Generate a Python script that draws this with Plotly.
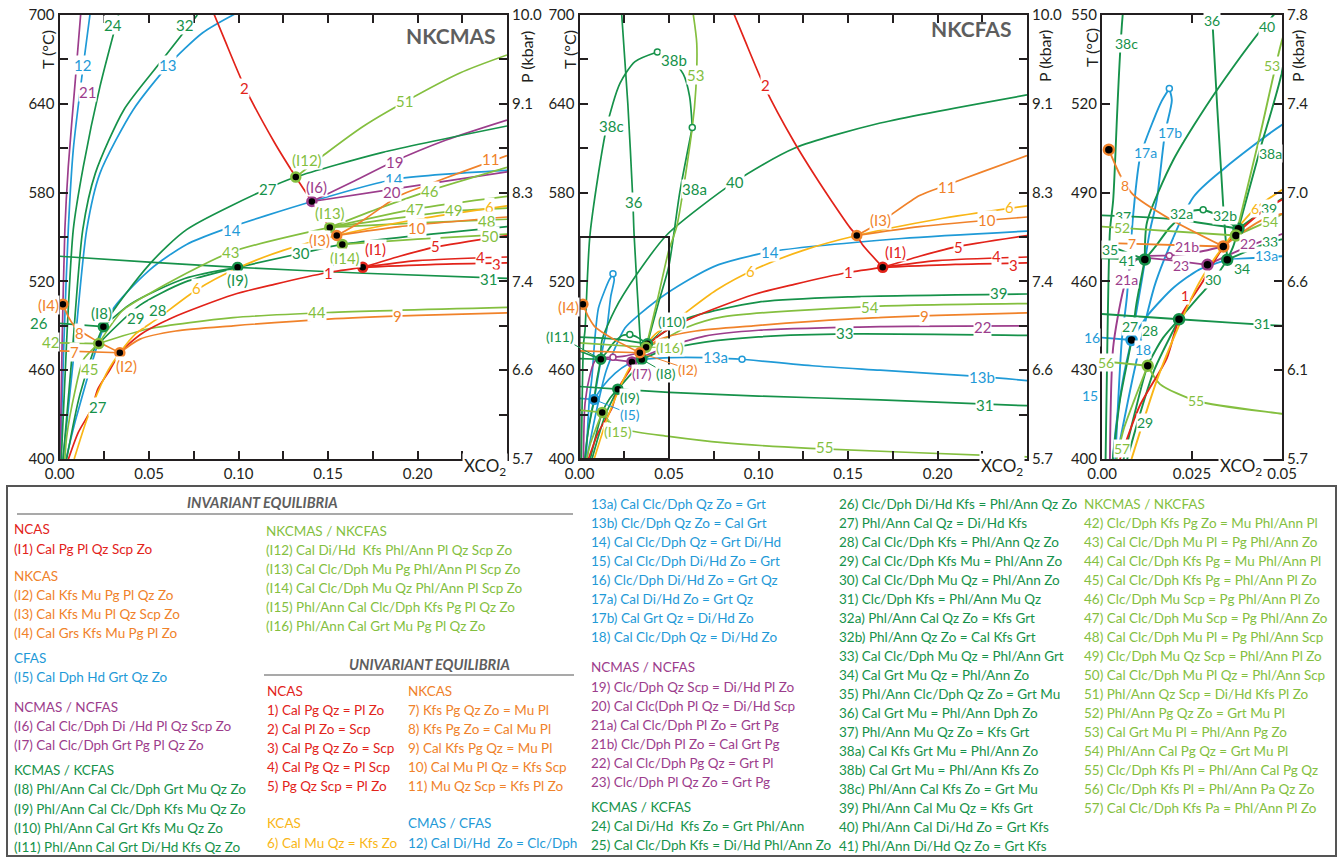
import plotly.graph_objects as go

# ---------------- colours ----------------
RED = "#e2231a"; ORG = "#f0822a"; YEL = "#f9b616"; BLU = "#1f9ad7"
PUR = "#9c3d8c"; DG = "#16924a"; LG = "#84bf3f"; GRY = "#5e5e5e"; INK = "#231f20"
FONT = "Lato, 'Open Sans', sans-serif"

# ---------------- data: (XCO2, T degC) ----------------
# NCAS / NKCAS / KCAS reactions (same in both systems)
NCAS_1 = [(0.1694, 529.5), (0.15, 526), (0.12, 518), (0.097, 511), (0.063, 495.5), (0.045, 484), (0.0337, 471.5), (0.028, 460), (0.0214, 447.2), (0.018, 434), (0.0105, 418), (0.005, 400)]
NCAS_2 = [(0.1694, 529.5), (0.158, 545), (0.1549, 551), (0.151, 556.5), (0.141, 574), (0.132, 590.5), (0.12, 614), (0.1036, 651), (0.092, 684), (0.0855, 703)]
NCAS_3 = [(0.1694, 529.5), (0.21, 531.5), (0.25, 532.5)]
NCAS_4 = [(0.1694, 529.5), (0.2, 534), (0.25, 536.5)]
NCAS_5 = [(0.1694, 529.5), (0.19, 537), (0.209, 543), (0.25, 551)]
KCAS_6 = [(0.0082, 400), (0.0152, 426.5), (0.021, 444), (0.0272, 460), (0.0337, 471.8), (0.0425, 484.5), (0.055, 495), (0.0763, 514), (0.0995, 529), (0.125, 541), (0.1549, 551), (0.2, 562), (0.25, 571)]
NKCAS_7 = [(0.0, 473), (0.0337, 471.8)]
NKCAS_8 = [(0.0019, 504.5), (0.005, 496), (0.0085, 489.5), (0.019, 481), (0.0337, 471.8)]
NKCAS_9 = [(0.0337, 471.8), (0.045, 481), (0.065, 486.5), (0.097, 490), (0.15, 494.5), (0.2, 497), (0.25, 498.8)]
NKCAS_10 = [(0.1549, 551), (0.19, 557), (0.25, 563.5)]
NKCAS_11 = [(0.1549, 551), (0.168, 560), (0.19, 578), (0.205, 585), (0.225, 594), (0.25, 605)]

# NKCMAS (left panel)
M_12 = [(0.0005, 400), (0.0025, 480), (0.0049, 555), (0.0077, 609), (0.0133, 666), (0.017, 700)]
M_13 = [(0.002, 400), (0.008, 470), (0.0152, 555), (0.0226, 593), (0.0412, 636), (0.0608, 666), (0.08, 688), (0.1, 702)]
M_14 = [(0.0037, 400), (0.0096, 429), (0.028, 498), (0.0506, 528), (0.071, 545), (0.0915, 555), (0.141, 574), (0.1874, 589), (0.25, 595)]
M_19 = [(0.141, 574), (0.165, 588), (0.185, 600), (0.216, 615.5), (0.25, 629)]
M_20 = [(0.141, 574), (0.19, 583), (0.25, 594)]
M_21 = [(0.0003, 400), (0.0015, 480), (0.003, 555), (0.0049, 597.5), (0.0087, 654), (0.0118, 700)]
M_24 = [(0.001, 400), (0.004, 480), (0.0077, 555), (0.0133, 597.5), (0.0226, 651.6), (0.033, 700)]
M_26 = [(0.0, 491.7), (0.0245, 489.4)]
M_27 = [(0.004, 400), (0.0115, 444), (0.0245, 489.4), (0.0506, 532), (0.071, 555), (0.1167, 583), (0.132, 590.5), (0.18, 607), (0.25, 625)]
M_28 = [(0.0219, 478), (0.045, 504), (0.07, 519.5), (0.0995, 529.5)]
M_29 = [(0.0245, 489.4), (0.04, 505), (0.07, 522), (0.0995, 529.5)]
M_30 = [(0.0995, 529.5), (0.135, 539), (0.158, 545), (0.25, 557)]
M_31 = [(0.0, 537), (0.05, 533), (0.0995, 529.5), (0.17, 525.5), (0.25, 522)]
M_32 = [(0.002, 400), (0.007, 470), (0.013, 555), (0.02, 593), (0.036, 636), (0.055, 666), (0.077, 700)]
M_42 = [(0.0, 478.5), (0.0219, 478)]
M_43 = [(0.0219, 478), (0.035, 500), (0.0506, 512), (0.095, 539.4), (0.151, 556.5)]
M_44 = [(0.0219, 478), (0.05, 488), (0.097, 495.5), (0.15, 499), (0.25, 502.5)]
M_45 = [(0.0219, 478), (0.0133, 467), (0.0085, 445), (0.004, 415), (0.003, 400)]
M_46 = [(0.151, 556.5), (0.18, 570), (0.206, 581), (0.25, 597)]
M_47 = [(0.151, 556.5), (0.199, 569), (0.25, 577.5)]
M_48 = [(0.151, 556.5), (0.2, 559.5), (0.25, 562)]
M_49 = [(0.151, 556.5), (0.22, 567.5), (0.25, 569.5)]
M_50 = [(0.158, 545), (0.2, 548.5), (0.25, 552)]
M_51 = [(0.132, 590.5), (0.149, 606.6), (0.17, 625), (0.193, 641.4), (0.224, 661), (0.25, 673)]

# NKCFAS (middle panel and inset)
F_13a = [(0.0348, 467.3), (0.05, 468.5), (0.07, 468.5), (0.0908, 467.4)]
F_13b = [(0.0908, 467.4), (0.13, 463), (0.168, 460), (0.2247, 455.6), (0.25, 453)]
F_14 = [(0.004, 400), (0.009, 430), (0.015, 460), (0.0254, 488.5), (0.0338, 498), (0.0499, 512.8), (0.075, 530), (0.1064, 540), (0.18, 549), (0.25, 554)]
F_15 = [(0.0082, 440.2), (0.006, 428), (0.004, 412), (0.003, 400)]
F_16 = [(0.0, 441), (0.0082, 440.2)]
F_17a = [(0.0037, 400), (0.0055, 440), (0.0069, 454.6), (0.0087, 483), (0.0106, 502), (0.0143, 514.5), (0.0166, 521), (0.0187, 525.2)]
F_17b = [(0.0187, 525.2), (0.0194, 521.2), (0.0175, 510), (0.0152, 487.4), (0.0133, 477), (0.011, 460), (0.0082, 440.2)]
F_18 = [(0.0082, 440.2), (0.013, 449), (0.02, 458), (0.027, 464), (0.0348, 467.3)]
F_21a = [(0.0022, 400), (0.0031, 437.7), (0.0059, 457), (0.0085, 466), (0.0106, 468.2), (0.0187, 468.7)]
F_21b = [(0.0187, 468.7), (0.025, 469.5), (0.0337, 471.8)]
F_22 = [(0.0293, 465.6), (0.04, 471.5), (0.05, 476), (0.07, 483), (0.1, 487), (0.168, 489.5), (0.25, 490)]
F_23 = [(0.0106, 468.2), (0.02, 467), (0.0293, 465.6)]
F_27 = [(0.003, 400), (0.005, 420), (0.0082, 440.2), (0.0095, 452), (0.0119, 467.4)]
F_28 = [(0.006, 400), (0.009, 415), (0.0127, 431.5), (0.017, 441), (0.0214, 447.2)]
F_29 = [(0.007, 400), (0.0105, 415), (0.0145, 430), (0.0214, 447.2)]
F_30 = [(0.0214, 447.2), (0.027, 455), (0.031, 460.5), (0.0348, 467.3)]
F_31 = [(0.0, 449), (0.0214, 447.2), (0.05, 445), (0.1, 442.5), (0.168, 440), (0.25, 436)]
F_32a = [(0.0119, 467.4), (0.015, 472), (0.0189, 478.3), (0.024, 483.5), (0.0281, 484.2)]
F_32b = [(0.0281, 484.2), (0.032, 482.5), (0.0379, 477.8)]
F_33 = [(0.0348, 467.3), (0.0467, 473.2), (0.07, 479), (0.1, 482.5), (0.15, 484.5), (0.25, 483.5)]
F_34 = [(0.0348, 467.3), (0.0365, 472), (0.0379, 477.8)]
F_35 = [(0.0, 473), (0.0119, 467.4)]
F_36 = [(0.0236, 700), (0.027, 640), (0.0298, 575), (0.0305, 551.7), (0.0337, 485), (0.0348, 467.3)]
F_37 = [(0.0, 482.3), (0.02, 481), (0.0379, 477.8)]
F_38a = [(0.0379, 477.8), (0.044, 505), (0.0499, 530.3), (0.056, 580), (0.063, 624)]
F_38b = [(0.063, 624), (0.0615, 645), (0.058, 660), (0.0485, 674), (0.0435, 675)]
F_38c = [(0.0435, 675), (0.031, 668.5), (0.0226, 653.8), (0.0152, 624.5), (0.0059, 552), (0.0031, 487.4), (0.0022, 477), (0.0015, 440), (0.001, 400)]
F_39 = [(0.0379, 477.8), (0.0457, 484.5), (0.06, 495), (0.1, 506), (0.15, 509.5), (0.25, 511.5)]
F_40 = [(0.0119, 467.4), (0.0125, 480), (0.0198, 501), (0.0319, 524.6), (0.049, 551.7), (0.0869, 587.4), (0.12, 610), (0.168, 627), (0.25, 646)]
F_41 = [(0.0, 467.8), (0.0119, 467.4)]
F_52 = [(0.0, 478.5), (0.0372, 475.5)]
F_53 = [(0.0372, 475.5), (0.044, 510), (0.0499, 541), (0.0543, 557), (0.063, 624), (0.065, 650), (0.0655, 681), (0.0636, 700)]
F_54 = [(0.0372, 475.5), (0.0467, 480.6), (0.06, 489), (0.08, 496), (0.162, 503), (0.25, 505)]
F_55 = [(0.0127, 431.5), (0.0161, 425.3), (0.0263, 419.6), (0.0499, 415.3), (0.08, 411), (0.1288, 407.2), (0.2387, 402), (0.25, 401.5)]
F_56 = [(0.0, 433), (0.0127, 431.5)]
F_57 = [(0.0127, 431.5), (0.009, 420), (0.006, 410), (0.004, 400)]

# invariant points (x, T)
INV_SHARED = {"I1": (0.1694, 529.5), "I2": (0.0337, 471.8), "I3": (0.1549, 551), "I4": (0.0019, 504.5)}
INV_M = {"I6": (0.141, 574), "I8": (0.0245, 489.4), "I9": (0.0995, 529.5), "I12": (0.132, 590.5),
         "I13": (0.151, 556.5), "I14": (0.158, 545), "P42": (0.0219, 478)}
INV_F = {"I5": (0.0082, 440.2), "I7": (0.0293, 465.6), "I8": (0.0348, 467.3), "I9": (0.0214, 447.2),
         "I10": (0.0379, 477.8), "I11": (0.0119, 467.4), "I15": (0.0127, 431.5), "I16": (0.0372, 475.5)}
OPEN_F = [((0.0435, 675), DG), ((0.063, 624), DG), ((0.0187, 525.2), BLU), ((0.0281, 484.2), DG),
          ((0.0187, 468.7), PUR), ((0.0908, 467.4), BLU)]

# axis ticks
T_MAIN = [400, 460, 520, 580, 640, 700]
T_MAIN_MINOR = [430, 490, 550, 610, 670]
P_MAIN_TXT = ["5.7", "6.6", "7.4", "8.3", "9.1", "10.0"]
X_MAIN = [0, 0.05, 0.10, 0.15, 0.20]
X_MAIN_TXT = ["0.00", "0.05", "0.10", "0.15", "0.20"]
X_MAIN_MINOR = [0.025, 0.075, 0.125, 0.175, 0.225, 0.25]
T_INS = [400, 430, 460, 490, 520, 550]
T_INS_MINOR = [445]
P_INS_TXT = ["5.7", "6.1", "6.6", "7.0", "7.4", "7.8"]
X_INS = [0, 0.025, 0.05]
X_INS_TXT = ["0.00", "0.025", "0.05"]

# curve labels: (text, x, T, colour)
P1_LABELS = [("24", 0.030, 693, DG), ("32", 0.070, 693, DG), ("12", 0.0131, 666, BLU), ("13", 0.0606, 666, BLU),
             ("21", 0.0154, 648, PUR), ("2", 0.1036, 651, RED), ("51", 0.193, 641.9, LG), ("(I12)", 0.138, 602, LG),
             ("19", 0.1874, 600.7, PUR), ("27", 0.1165, 582.4, DG), ("(I6)", 0.1438, 584, PUR), ("14", 0.187, 589.5, BLU),
             ("14", 0.0964, 554.7, BLU), ("20", 0.186, 580.5, PUR), ("46", 0.207, 581, LG), ("11", 0.241, 602.7, ORG),
             ("47", 0.1986, 569, LG), ("49", 0.22, 568, LG), ("6", 0.2405, 570.3, YEL), ("6", 0.0763, 515.5, YEL),
             ("48", 0.2388, 560.8, LG), ("10", 0.1997, 556, ORG), ("(I13)", 0.151, 566, LG), ("(I3)", 0.1455, 548, ORG),
             ("50", 0.2405, 550.7, LG), ("(I14)", 0.1595, 535.8, LG), ("(I1)", 0.1763, 542, RED), ("5", 0.2103, 544, RED),
             ("4", 0.235, 536.5, RED), ("3", 0.2444, 531.7, RED), ("43", 0.0954, 539.9, LG), ("30", 0.135, 539.2, DG),
             ("1", 0.15, 525.7, RED), ("31", 0.2394, 521.6, DG), ("(I9)", 0.0997, 521, DG), ("(I4)", -0.0064, 504, ORG),
             ("26", -0.0114, 492, DG), ("(I8)", 0.0237, 498.6, DG), ("29", 0.0422, 495.3, DG), ("28", 0.055, 500.7, DG),
             ("8", 0.011, 485, ORG), ("44", 0.1439, 499.3, LG), ("9", 0.1886, 496.6, ORG), ("42", -0.0053, 479, LG),
             ("7", 0.0081, 472.3, ORG), ("(I2)", 0.0372, 462.8, ORG), ("45", 0.017, 460.8, LG), ("27", 0.0215, 435.1, DG)]
P2_LABELS = [("38b", 0.0528, 669.6, DG), ("53", 0.065, 659.5, LG), ("2", 0.104, 652.7, RED), ("38c", 0.018, 625, DG),
             ("38a", 0.0645, 582.4, DG), ("40", 0.0869, 587, DG), ("36", 0.0304, 573.6, DG), ("11", 0.2053, 583.8, ORG),
             ("6", 0.2405, 570.3, YEL), ("6", 0.0958, 527, YEL), ("10", 0.2277, 561.5, ORG), ("(I3)", 0.1679, 561.5, ORG),
             ("14", 0.1064, 540, BLU), ("5", 0.2115, 543.2, RED), ("(I1)", 0.1763, 540, RED), ("4", 0.2332, 537.2, RED),
             ("3", 0.2427, 531, RED), ("1", 0.15, 526.3, RED), ("(I4)", -0.0064, 502.7, ORG), ("39", 0.2338, 512.2, DG),
             ("54", 0.1623, 502.7, LG), ("9", 0.193, 496.6, ORG), ("22", 0.2254, 489.2, PUR), ("33", 0.1478, 485, DG),
             ("13a", 0.0757, 469, BLU), ("13b", 0.2249, 455.4, BLU), ("31", 0.2265, 436.5, DG), ("55", 0.137, 408.1, LG)]
# labels with leader lines: (text, label x, label T, point key, colour)
P2_LEADERS = [("(I10)", 0.0515, 492.8, "I10", DG), ("(I11)", -0.0109, 482.6, "I11", DG), ("(I16)", 0.0506, 475.5, "I16", LG),
              ("(I7)", 0.035, 458.1, "I7", PUR), ("(I8)", 0.0483, 458, "I8", DG), ("(I2)", 0.0606, 460.8, "I2", ORG),
              ("(I9)", 0.0282, 441.7, "I9", DG), ("(I5)", 0.0282, 430.4, "I5", BLU), ("(I15)", 0.0217, 418.4, "I15", LG)]
P3_LABELS = [("36", 0.0306, 548.3, DG), ("40", 0.0458, 546, DG), ("38c", 0.0069, 540.5, DG), ("53", 0.0472, 533.1, LG),
             ("17b", 0.0189, 510.4, BLU), ("17a", 0.0122, 503.6, BLU), ("38a", 0.0467, 503.3, DG), ("8", 0.0064, 492.4, ORG),
             ("32a", 0.0222, 483, DG), ("32b", 0.0342, 482.3, DG), ("6", 0.0425, 484.6, YEL), ("39", 0.0465, 484.6, DG),
             ("37", 0.0058, 482, DG), ("54", 0.0467, 480.4, LG), ("52", 0.0056, 478.2, LG), ("7", 0.0083, 472.8, ORG),
             ("21b", 0.0236, 471.8, PUR), ("22", 0.0406, 472.8, PUR), ("33", 0.0467, 473.6, DG), ("35", 0.0022, 470.8, DG),
             ("41", 0.0069, 467, DG), ("13a", 0.0458, 468.7, BLU), ("23", 0.0219, 465.4, PUR), ("34", 0.0389, 464.3, DG),
             ("21a", 0.0067, 460.6, PUR), ("30", 0.0308, 460.6, DG), ("1", 0.023, 455.2, RED), ("31", 0.0444, 445.7, DG),
             ("27", 0.0078, 444.7, DG), ("28", 0.0133, 443.3, DG), ("16", -0.0028, 441, BLU), ("18", 0.0114, 436.9, BLU),
             ("56", 0.0011, 432.5, LG), ("15", -0.0033, 421.3, BLU), ("55", 0.0261, 419.6, LG), ("29", 0.0119, 412.5, DG),
             ("57", 0.0056, 403.4, LG)]

# legend text
LEG_INV_1 = [("NCAS", RED), ("(I1) Cal Pg Pl Qz Scp Zo", RED), ("NKCAS", ORG), ("(I2) Cal Kfs Mu Pg Pl Qz Zo", ORG),
             ("(I3) Cal Kfs Mu Pl Qz Scp Zo", ORG), ("(I4) Cal Grs Kfs Mu Pg Pl Zo", ORG), ("CFAS", BLU),
             ("(I5) Cal Dph Hd Grt Qz Zo", BLU), ("NCMAS / NCFAS", PUR), ("(I6) Cal Clc/Dph Di /Hd Pl Qz Scp Zo", PUR),
             ("(I7) Cal Clc/Dph Grt Pg Pl Qz Zo", PUR), ("KCMAS / KCFAS", DG), ("(I8) Phl/Ann Cal Clc/Dph Grt Mu Qz Zo", DG),
             ("(I9) Phl/Ann Cal Clc/Dph Kfs Mu Qz Zo", DG), ("(I10) Phl/Ann Cal Grt Kfs Mu Qz Zo", DG),
             ("(I11) Phl/Ann Cal Grt Di/Hd Kfs Qz Zo", DG)]
LEG_INV_1_Y = [529, 549, 576, 595, 614, 633, 658, 677, 707, 726, 745, 770, 789, 809, 828, 847]
LEG_INV_2 = ["NKCMAS / NKCFAS", "(I12) Cal Di/Hd  Kfs Phl/Ann Pl Qz Scp Zo", "(I13) Cal Clc/Dph Mu Pg Phl/Ann Pl Scp Zo",
             "(I14) Cal Clc/Dph Mu Qz Phl/Ann Pl Scp Zo", "(I15) Phl/Ann Cal Clc/Dph Kfs Pg Pl Qz Zo",
             "(I16) Phl/Ann Cal Grt Mu Pg Pl Qz Zo"]
LEG_UNI_A = [("NCAS", RED), ("1) Cal Pg Qz = Pl Zo", RED), ("2) Cal Pl Zo = Scp", RED), ("3) Cal Pg Qz Zo = Scp", RED),
             ("4) Cal Pg Qz = Pl Scp", RED), ("5) Pg Qz Scp = Pl Zo", RED), ("KCAS", YEL), ("6) Cal Mu Qz = Kfs Zo", YEL)]
LEG_UNI_B = [("NKCAS", ORG), ("7) Kfs Pg Qz Zo = Mu Pl", ORG), ("8) Kfs Pg Zo = Cal Mu Pl", ORG),
             ("9) Cal Kfs Pg Qz = Mu Pl", ORG), ("10) Cal Mu Pl Qz = Kfs Scp", ORG), ("11) Mu Qz Scp = Kfs Pl Zo", ORG),
             ("CMAS / CFAS", BLU), ("12) Cal Di/Hd  Zo = Clc/Dph", BLU)]
LEG_UNI_Y = [691, 710, 729, 748, 767, 786, 823, 843]
LEG_COL4 = [("13a) Cal Clc/Dph Qz Zo = Grt", BLU), ("13b) Clc/Dph Qz Zo = Cal Grt", BLU), ("14) Cal Clc/Dph Qz = Grt Di/Hd", BLU),
            ("15) Cal Clc/Dph Di/Hd Zo = Grt", BLU), ("16) Clc/Dph Di/Hd Zo = Grt Qz", BLU), ("17a) Cal Di/Hd Zo = Grt Qz", BLU),
            ("17b) Cal Grt Qz = Di/Hd Zo", BLU), ("18) Cal Clc/Dph Qz = Di/Hd Zo", BLU), ("NCMAS / NCFAS", PUR),
            ("19) Clc/Dph Qz Scp = Di/Hd Pl Zo", PUR), ("20) Cal Clc(Dph Pl Qz = Di/Hd Scp", PUR),
            ("21a) Cal Clc/Dph Pl Zo = Grt Pg", PUR), ("21b) Clc/Dph Pl Zo = Cal Grt Pg", PUR),
            ("22) Cal Clc/Dph Pg Qz = Grt Pl", PUR), ("23) Clc/Dph Pl Qz Zo = Grt Pg", PUR), ("KCMAS / KCFAS", DG),
            ("24) Cal Di/Hd  Kfs Zo = Grt Phl/Ann", DG), ("25) Cal Clc/Dph Kfs = Di/Hd Phl/Ann Zo", DG)]
LEG_COL4_Y = [504, 523, 542, 561, 580, 599, 618, 637, 667, 687, 706, 725, 744, 763, 782, 807, 826, 845]
LEG_COL5 = ["26) Clc/Dph Di/Hd Kfs = Phl/Ann Qz Zo", "27) Phl/Ann Cal Qz = Di/Hd Kfs", "28) Cal Clc/Dph Kfs = Phl/Ann Qz Zo",
            "29) Cal Clc/Dph Kfs Mu = Phl/Ann Zo", "30) Cal Clc/Dph Mu Qz = Phl/Ann Zo", "31) Clc/Dph Kfs = Phl/Ann Mu Qz",
            "32a) Phl/Ann Cal Qz Zo = Kfs Grt", "32b) Phl/Ann Qz Zo = Cal Kfs Grt", "33) Cal Clc/Dph Mu Qz = Phl/Ann Grt",
            "34) Cal Grt Mu Qz = Phl/Ann Zo", "35) Phl/Ann Clc/Dph Qz Zo = Grt Mu", "36) Cal Grt Mu = Phl/Ann Dph Zo",
            "37) Phl/Ann Mu Qz Zo = Kfs Grt", "38a) Cal Kfs Grt Mu = Phl/Ann Zo", "38b) Cal Grt Mu = Phl/Ann Kfs Zo",
            "38c) Phl/Ann Cal Kfs Zo = Grt Mu", "39) Phl/Ann Cal Mu Qz = Kfs Grt", "40) Phl/Ann Cal Di/Hd Zo = Grt Kfs",
            "41) Phl/Ann Di/Hd Qz Zo = Grt Kfs"]
LEG_COL6 = ["NKCMAS / NKCFAS", "42) Clc/Dph Kfs Pg Zo = Mu Phl/Ann Pl", "43) Cal Clc/Dph Mu Pl = Pg Phl/Ann Zo",
            "44) Cal Clc/Dph Kfs Pg = Mu Phl/Ann Pl", "45) Cal Clc/Dph Kfs Pg = Phl/Ann Pl Zo",
            "46) Clc/Dph Mu Scp = Pg Phl/Ann Pl Zo", "47) Cal Clc/Dph Mu Scp = Pg Phl/Ann Zo",
            "48) Cal Clc/Dph Mu Pl = Pg Phl/Ann Scp", "49) Clc/Dph Mu Qz Scp = Phl/Ann Pl Zo",
            "50) Cal Clc/Dph Mu Pl Qz = Phl/Ann Scp", "51) Phl/Ann Qz Scp = Di/Hd Kfs Pl Zo", "52) Phl/Ann Pg Qz Zo = Grt Mu Pl",
            "53) Cal Grt Mu Pl = Phl/Ann Pg Zo", "54) Phl/Ann Cal Pg Qz = Grt Mu Pl", "55) Clc/Dph Kfs Pl = Phl/Ann Cal Pg Qz",
            "56) Clc/Dph Kfs Pl = Phl/Ann Pa Qz Zo", "57) Cal Clc/Dph Kfs Pa = Phl/Ann Pl Zo"]

# ---------------- figure ----------------
W, H = 1341, 858
SHARED = [(NCAS_1, RED), (NCAS_2, RED), (NCAS_3, RED), (NCAS_4, RED), (NCAS_5, RED), (KCAS_6, YEL),
          (NKCAS_7, ORG), (NKCAS_8, ORG), (NKCAS_9, ORG), (NKCAS_10, ORG), (NKCAS_11, ORG)]
P1 = [(M_12, BLU), (M_13, BLU), (M_14, BLU), (M_19, PUR), (M_20, PUR), (M_21, PUR), (M_24, DG), (M_26, DG),
      (M_27, DG), (M_28, DG), (M_29, DG), (M_30, DG), (M_31, DG), (M_32, DG), (M_42, LG), (M_43, LG), (M_44, LG),
      (M_45, LG), (M_46, LG), (M_47, LG), (M_48, LG), (M_49, LG), (M_50, LG), (M_51, LG)]
PF = [(F_13a, BLU), (F_13b, BLU), (F_14, BLU), (F_15, BLU), (F_16, BLU), (F_17a, BLU), (F_17b, BLU), (F_18, BLU),
      (F_21a, PUR), (F_21b, PUR), (F_22, PUR), (F_23, PUR), (F_27, DG), (F_28, DG), (F_29, DG), (F_30, DG),
      (F_31, DG), (F_32a, DG), (F_32b, DG), (F_33, DG), (F_34, DG), (F_35, DG), (F_36, DG), (F_37, DG),
      (F_38a, DG), (F_38b, DG), (F_38c, DG), (F_39, DG), (F_40, DG), (F_41, DG), (F_52, LG), (F_53, LG),
      (F_54, LG), (F_55, LG), (F_56, LG), (F_57, LG)]
RING = {"I1": RED, "I2": ORG, "I3": ORG, "I4": ORG, "I5": BLU, "I6": PUR, "I7": PUR, "I8": DG, "I9": DG, "I10": DG,
        "I11": DG, "I12": LG, "I13": LG, "I14": LG, "I15": LG, "I16": LG, "P42": LG}

fig = go.Figure()


def add_curves(curves, xa, ya, width=1.7):
    for pts, col in curves:
        fig.add_trace(go.Scatter(x=[p[0] for p in pts], y=[p[1] for p in pts], mode="lines",
                                 line=dict(color=col, width=width, shape="spline", smoothing=0.7),
                                 xaxis=xa, yaxis=ya, hoverinfo="skip", showlegend=False))


def add_points(pts, xa, ya, size=9):
    for k, (x, t) in pts.items():
        fig.add_trace(go.Scatter(x=[x], y=[t], mode="markers",
                                 marker=dict(size=size, color="black", line=dict(color=RING[k], width=2.5)),
                                 xaxis=xa, yaxis=ya, hoverinfo="skip", showlegend=False))


def add_open(xa, ya):
    for (x, t), col in OPEN_F:
        fig.add_trace(go.Scatter(x=[x], y=[t], mode="markers",
                                 marker=dict(size=6, color="white", line=dict(color=col, width=1.5)),
                                 xaxis=xa, yaxis=ya, hoverinfo="skip", showlegend=False))


add_curves(P1 + SHARED, "x", "y")
add_points(INV_M, "x", "y")
add_points(INV_SHARED, "x", "y")
add_curves(PF + SHARED, "x2", "y2")
add_points(INV_F, "x2", "y2")
add_points(INV_SHARED, "x2", "y2")
add_open("x2", "y2")
add_curves(PF + SHARED, "x3", "y3", width=1.9)
add_points(INV_F, "x3", "y3", size=10)
add_points(INV_SHARED, "x3", "y3", size=10)
add_open("x3", "y3")
for xa, ya in (("x", "y4"), ("x2", "y5"), ("x3", "y6")):
    fig.add_trace(go.Scatter(x=[None], y=[None], xaxis=xa, yaxis=ya, showlegend=False, hoverinfo="skip"))


def px(x):
    return x / W


def py(y):
    return 1 - y / H


YDOM = [py(459), py(15)]
D1 = [px(59.5), px(507)]
D2 = [px(579.5), px(1027)]
D3 = [px(1102), px(1282)]
XR_MAIN, XR_INS = [0, 0.25], [0, 0.05]
YR_MAIN, YR_INS = [400, 700], [400, 550]
AXES = {"x": (D1, XR_MAIN, YR_MAIN), "x2": (D2, XR_MAIN, YR_MAIN), "x3": (D3, XR_INS, YR_INS)}
tickfont = dict(family=FONT, size=15, color=INK)


def minor(vals):
    return dict(tickvals=vals, ticks="inside", ticklen=8, tickwidth=2, tickcolor=INK, showgrid=False)


def xaxis(dom, rng, tv, tt, anchor, mv):
    return dict(domain=dom, range=rng, anchor=anchor, showline=True, linecolor=INK, linewidth=2, mirror="ticks",
                ticks="inside", ticklen=8, tickwidth=2, tickcolor=INK, tickvals=tv, ticktext=tt, tickfont=tickfont,
                showgrid=False, zeroline=False, fixedrange=True, automargin=False, minor=minor(mv))


def yaxis(rng, tv, tt, anchor, mv, side="left", overlay=None):
    d = dict(domain=YDOM, range=rng, anchor=anchor, side=side, showline=True, linecolor=INK, linewidth=2,
             ticks="inside", ticklen=8, tickwidth=2, tickcolor=INK, tickvals=tv, ticktext=tt, tickfont=tickfont,
             showgrid=False, zeroline=False, fixedrange=True, automargin=False, minor=minor(mv))
    if overlay:
        d["overlaying"] = overlay
    return d


fig.update_layout(
    width=W, height=H, margin=dict(l=0, r=0, t=0, b=0, pad=0, autoexpand=False), paper_bgcolor="white",
    plot_bgcolor="white", showlegend=False, font=dict(family=FONT),
    xaxis=xaxis(D1, XR_MAIN, X_MAIN, X_MAIN_TXT, "y", X_MAIN_MINOR),
    yaxis=yaxis(YR_MAIN, T_MAIN, [str(v) for v in T_MAIN], "x", T_MAIN_MINOR),
    xaxis2=xaxis(D2, XR_MAIN, X_MAIN, X_MAIN_TXT, "y2", X_MAIN_MINOR),
    yaxis2=yaxis(YR_MAIN, T_MAIN, [str(v) for v in T_MAIN], "x2", T_MAIN_MINOR),
    xaxis3=xaxis(D3, XR_INS, X_INS, X_INS_TXT, "y3", []),
    yaxis3=yaxis(YR_INS, T_INS, [str(v) for v in T_INS], "x3", []),
    yaxis4=yaxis(YR_MAIN, T_MAIN, P_MAIN_TXT, "x", T_MAIN_MINOR, side="right", overlay="y"),
    yaxis5=yaxis(YR_MAIN, T_MAIN, P_MAIN_TXT, "x2", T_MAIN_MINOR, side="right", overlay="y2"),
    yaxis6=yaxis(YR_INS, T_INS, P_INS_TXT, "x3", T_INS_MINOR, side="right", overlay="y3"),
)

ann = []


def lab(text, x, t, col, xr, yr, size=15):
    d = dict(text=text, showarrow=False, bgcolor="white", borderpad=0, xanchor="center", yanchor="middle",
             font=dict(family=FONT, size=size, color=col))
    dom, xrng, yrng = AXES[xr]
    if xrng[0] <= x <= xrng[1] and yrng[0] <= t <= yrng[1]:
        d.update(x=x, y=t, xref=xr, yref=yr)
    else:
        # labels that sit outside the frame: place them on the page via the axis mapping
        fx = dom[0] + (x - xrng[0]) / (xrng[1] - xrng[0]) * (dom[1] - dom[0])
        fy = YDOM[0] + (t - yrng[0]) / (yrng[1] - yrng[0]) * (YDOM[1] - YDOM[0])
        d.update(x=fx, y=fy, xref="paper", yref="paper")
    ann.append(d)


for t, x, y, c in P1_LABELS:
    lab(t, x, y, c, "x", "y")
for t, x, y, c in P2_LABELS:
    lab(t, x, y, c, "x2", "y2")
for t, x, y, c in P3_LABELS:
    lab(t, x, y, c, "x3", "y3", size=14)
for t, lx, ly, k, c in P2_LEADERS:
    X, Y = INV_F.get(k, INV_SHARED.get(k))
    ann.append(dict(text=t, x=X, y=Y, ax=lx, ay=ly, xref="x2", yref="y2", axref="x2", ayref="y2", showarrow=True,
                    arrowhead=0, arrowwidth=1, arrowcolor=c, standoff=4, bgcolor="white", borderpad=0,
                    font=dict(family=FONT, size=14, color=c)))

ann.append(dict(text="<b>NKCMAS</b>", x=0.245, y=686, xref="x", yref="y", xanchor="right", yanchor="middle",
                showarrow=False, font=dict(family=FONT, size=21, color=GRY)))
ann.append(dict(text="<b>NKCFAS</b>", x=0.2422, y=691, xref="x2", yref="y2", xanchor="right", yanchor="middle",
                showarrow=False, font=dict(family=FONT, size=21, color=GRY)))


def ptext(txt, x, y, size, col=INK, angle=0, bg=None):
    d = dict(text=txt, x=px(x), y=py(y), xref="paper", yref="paper", showarrow=False, textangle=angle,
             xanchor="center", yanchor="middle", font=dict(family=FONT, size=size, color=col))
    if bg:
        d["bgcolor"] = bg
    ann.append(d)


for xx, yy, txt in ((47, 49, "T (°C)"), (526, 57, "P (kbar)"), (569, 50, "T (°C)"), (1044, 56, "P (kbar)"),
                    (1092, 48, "T (°C)"), (1297, 56, "P (kbar)")):
    ptext(txt, xx, yy, 16, angle=-90)
for xx in (485, 1002, 1241):
    ptext("XCO<sub>2</sub>", xx, 467, 17, bg="white")


def leg(text, col, x, y, size=13.5):
    ann.append(dict(text=text, x=px(x), y=py(y), xref="paper", yref="paper", xanchor="left", yanchor="middle",
                    showarrow=False, font=dict(family=FONT, size=size, color=col)))


for (t, c), y in zip(LEG_INV_1, LEG_INV_1_Y):
    leg(t, c, 12, y)
for i, t in enumerate(LEG_INV_2):
    leg(t, LG, 264, 531 + 19 * i)
for (t, c), y in zip(LEG_UNI_A, LEG_UNI_Y):
    leg(t, c, 265, y)
for (t, c), y in zip(LEG_UNI_B, LEG_UNI_Y):
    leg(t, c, 406, y)
for (t, c), y in zip(LEG_COL4, LEG_COL4_Y):
    leg(t, c, 589, y)
for i, t in enumerate(LEG_COL5):
    leg(t, DG, 837, 504 + 19 * i)
for i, t in enumerate(LEG_COL6):
    leg(t, LG, 1082, 504 + 19 * i)
ptext("<b><i>INVARIANT EQUILIBRIA</i></b>", 262, 503, 14.5, col=GRY)
ptext("<b><i>UNIVARIANT EQUILIBRIA</i></b>", 430, 664, 14.5, col=GRY)
fig.update_layout(annotations=ann)

shapes = [
    dict(type="rect", xref="paper", yref="paper", x0=px(7), x1=px(1336), y0=py(856), y1=py(486),
         line=dict(color="#555555", width=2)),
    dict(type="line", xref="paper", yref="paper", x0=px(17), x1=px(573), y0=py(514), y1=py(514),
         line=dict(color="#555555", width=1.2)),
    dict(type="line", xref="paper", yref="paper", x0=px(264), x1=px(574), y0=py(675), y1=py(675),
         line=dict(color="#555555", width=1.2)),
    dict(type="rect", xref="x2", yref="y2", x0=0, x1=0.05, y0=400, y1=550, line=dict(color=INK, width=2)),
]
fig.update_layout(shapes=shapes)

fig.write_html("out.html", config={"displayModeBar": False},
               post_script="document.body.style.margin='0px';")
